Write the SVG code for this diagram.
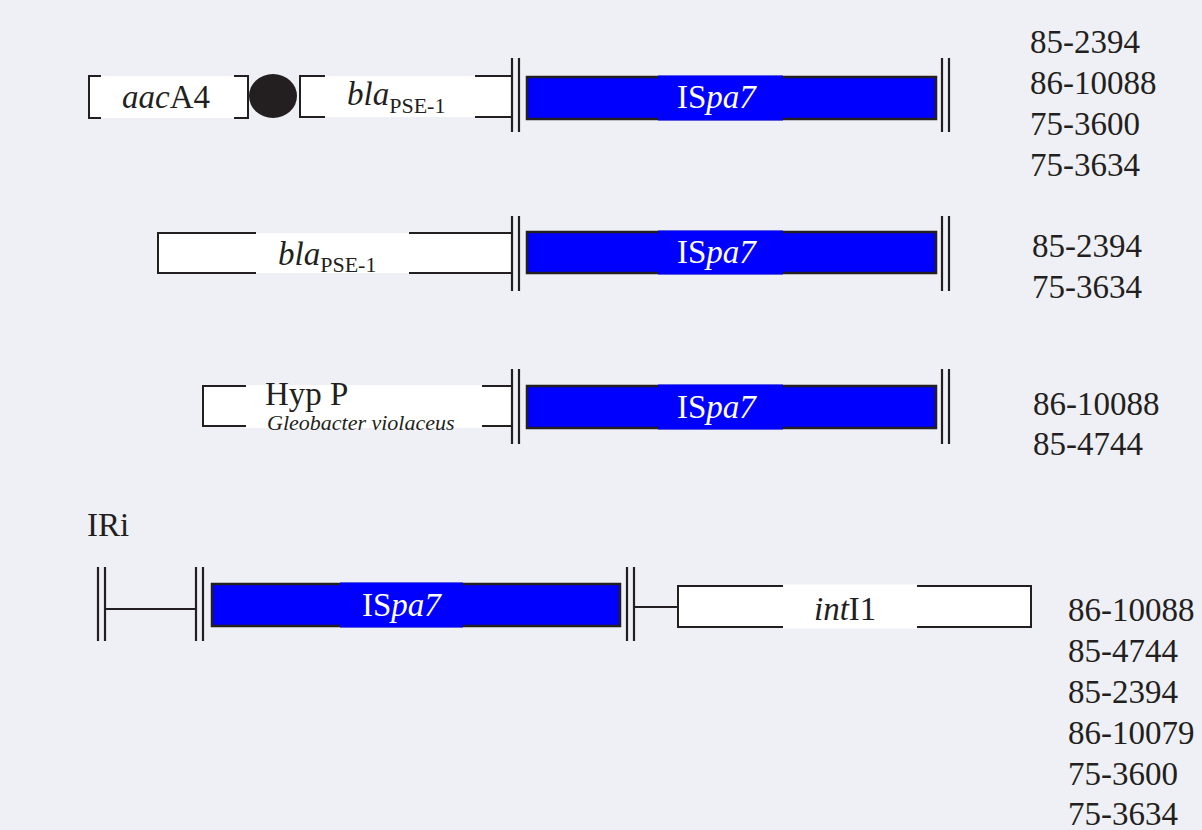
<svg xmlns="http://www.w3.org/2000/svg" width="1202" height="830" viewBox="0 0 1202 830">
<style>
.t{font-family:"Liberation Serif","Times New Roman",serif;fill:#231f20;font-size:33px}
.w{fill:#ffffff}
.i{font-style:italic}
.brd{fill:none;stroke:#231f20;stroke-width:2}
.bar{stroke:#231f20;stroke-width:2.2}
.is{fill:#0000ff;stroke:#231f20;stroke-width:2.5}
.isbg{fill:#0000ff}
.ist{font-family:"Liberation Serif","Times New Roman",serif;fill:#ffffff;font-size:33px}
.sub{font-size:22px}
</style>
<rect width="1202" height="830" fill="#eff0f5"/>

<!-- Row 1 -->
<g id="aacA4">
<rect class="w" x="88" y="76" width="161" height="42"/>
<path class="brd" d="M101,76 H89 V118 H101 M234,76 H248 V118 H234"/>
<text class="t" x="122" y="108"><tspan class="i">aac</tspan>A4</text>
</g>
<g id="cassette-dot">
<ellipse cx="273" cy="96" rx="24" ry="22" fill="#231f20"/>
</g>
<g id="bla1">
<rect class="w" x="299" y="76" width="213" height="41"/>
<path class="brd" d="M325,76 H300 V117 H325 M475,76 H512 M475,117 H512"/>
<text class="t" x="347" y="105"><tspan class="i">bla</tspan><tspan class="sub" dy="8">PSE-1</tspan></text>
</g>
<g id="ispa7-1">
<rect class="is" x="527" y="77" width="409" height="42"/>
<rect class="isbg" x="658" y="75.5" width="125" height="45"/>
<text class="ist" x="677" y="108">IS<tspan class="i">pa7</tspan></text>
</g>

<!-- Row 2 -->
<g id="bla2">
<rect class="w" x="157" y="233" width="355" height="40"/>
<path class="brd" d="M256,233 H158 V273 H256 M409,233 H512 M409,273 H512"/>
<text class="t" x="278" y="265"><tspan class="i">bla</tspan><tspan class="sub" dy="7">PSE-1</tspan></text>
</g>
<g id="ispa7-2">
<rect class="is" x="527" y="232" width="409" height="41"/>
<rect class="isbg" x="658" y="230.5" width="125" height="44"/>
<text class="ist" x="677" y="263">IS<tspan class="i">pa7</tspan></text>
</g>

<!-- Row 3 -->
<g id="hypP">
<rect class="w" x="202" y="386" width="310" height="40"/>
<rect class="w" x="246" y="385" width="236" height="43"/>
<path class="brd" d="M246,386 H203 V426 H246 M482,386 H512 M482,426 H512"/>
<text class="t" x="265" y="405">Hyp P</text>
<text class="t i" x="267" y="430" style="font-size:22px">Gleobacter violaceus</text>
</g>
<g id="ispa7-3">
<rect class="is" x="527" y="386" width="409" height="42"/>
<rect class="isbg" x="658" y="384.5" width="125" height="45"/>
<text class="ist" x="677" y="418">IS<tspan class="i">pa7</tspan></text>
</g>

<!-- Row 4 -->
<g id="IRi">
<text class="t" x="87" y="536">IRi</text>
</g>
<g id="ispa7-4">
<rect class="is" x="212" y="584" width="408" height="42"/>
<rect class="isbg" x="340" y="582.5" width="123" height="45"/>
<text class="ist" x="362" y="616">IS<tspan class="i">pa7</tspan></text>
</g>
<g id="intI1">
<rect class="w" x="678" y="586" width="354" height="41"/>
<rect class="w" x="783" y="584.5" width="134" height="44"/>
<path class="brd" d="M783,586 H678 V627 H783 M917,586 H1031 V627 H917"/>
<text class="t" x="814" y="620"><tspan class="i">int</tspan>I1</text>
</g>

<!-- Connectors: inverted repeats (double bars) and spacer lines -->
<g id="connectors">
<line class="bar" x1="512" y1="58" x2="512" y2="132"/>
<line class="bar" x1="519" y1="58" x2="519" y2="132"/>
<line class="bar" x1="942" y1="58" x2="942" y2="132"/>
<line class="bar" x1="949" y1="58" x2="949" y2="132"/>

<line class="bar" x1="512" y1="216" x2="512" y2="291"/>
<line class="bar" x1="519" y1="216" x2="519" y2="291"/>
<line class="bar" x1="942" y1="216" x2="942" y2="291"/>
<line class="bar" x1="949" y1="216" x2="949" y2="291"/>

<line class="bar" x1="512" y1="369" x2="512" y2="444"/>
<line class="bar" x1="519" y1="369" x2="519" y2="444"/>
<line class="bar" x1="942" y1="369" x2="942" y2="444"/>
<line class="bar" x1="949" y1="369" x2="949" y2="444"/>

<line class="bar" x1="98" y1="567" x2="98" y2="641"/>
<line class="bar" x1="105" y1="567" x2="105" y2="641"/>
<line class="bar" x1="196" y1="567" x2="196" y2="641"/>
<line class="bar" x1="203" y1="567" x2="203" y2="641"/>
<line class="bar" x1="627" y1="567" x2="627" y2="641"/>
<line class="bar" x1="634" y1="567" x2="634" y2="641"/>
<line class="brd" x1="105" y1="609" x2="196" y2="609"/>
<line class="brd" x1="634" y1="607" x2="678" y2="607"/>
</g>

<!-- Strain labels -->
<g id="labels1">
<text class="t" x="1030" y="53">85-2394</text>
<text class="t" x="1030" y="94">86-10088</text>
<text class="t" x="1030" y="135">75-3600</text>
<text class="t" x="1030" y="176">75-3634</text>
</g>
<g id="labels2">
<text class="t" x="1032" y="257">85-2394</text>
<text class="t" x="1032" y="298">75-3634</text>
</g>
<g id="labels3">
<text class="t" x="1033" y="415">86-10088</text>
<text class="t" x="1033" y="455">85-4744</text>
</g>
<g id="labels4">
<text class="t" x="1068" y="621">86-10088</text>
<text class="t" x="1068" y="662">85-4744</text>
<text class="t" x="1068" y="703">85-2394</text>
<text class="t" x="1068" y="744">86-10079</text>
<text class="t" x="1068" y="785">75-3600</text>
<text class="t" x="1068" y="825">75-3634</text>
</g>
</svg>
